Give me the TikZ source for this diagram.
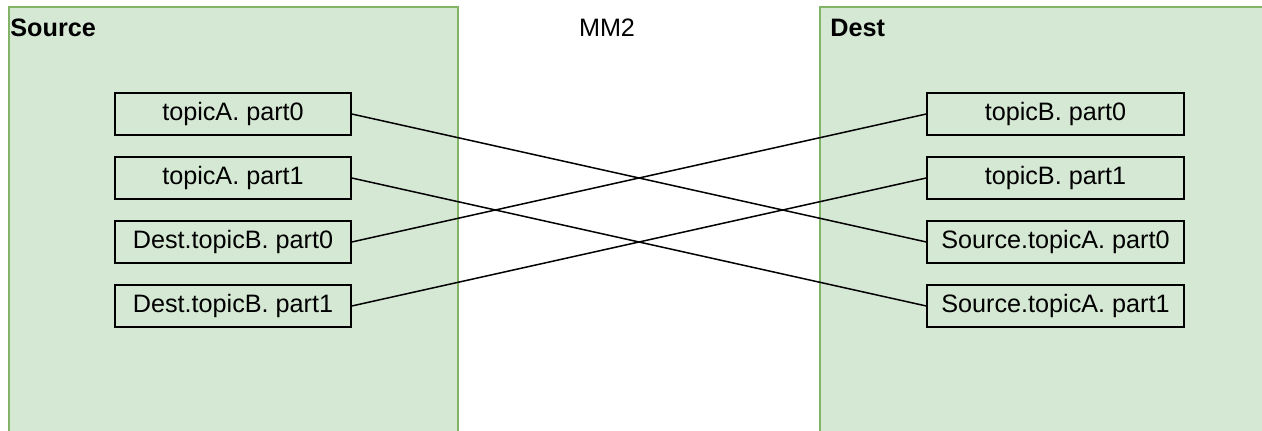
\documentclass[tikz,border=0pt]{standalone}
\usepackage{fontspec}
\setmainfont{Liberation Sans}
\definecolor{panelfill}{HTML}{D5E8D4}
\definecolor{paneldraw}{HTML}{82B366}
\tikzset{
  panel/.style={fill=panelfill, draw=paneldraw, line width=1pt},
  topicbox/.style={draw, line width=0.75pt, minimum height=21pt, inner sep=0pt,
    font=\fontsize{12.6}{15}\selectfont},
  title/.style={inner sep=0pt, font=\fontsize{12.6}{15}\selectfont}
}
\begin{document}
\begin{tikzpicture}[x=0.5pt, y=-0.5pt]
  \useasboundingbox (0,0) rectangle (1262,431);

  % clusters
  \fill[panelfill] (9,7) rectangle (458,431);
  \draw[paneldraw, line width=1pt] (9,431) -- (9,7) -- (458,7) -- (458,431);
  \fill[panelfill] (820,7) rectangle (1262,431);
  \draw[paneldraw, line width=1pt] (1262,7) -- (820,7) -- (820,431);
  \node[title, anchor=west, font=\bfseries\fontsize{12.6}{15}\selectfont] (srclabel) at (10,28) {Source};
  \node[title, anchor=west, font=\bfseries\fontsize{12.6}{15}\selectfont] (dstlabel) at (830,28) {Dest};
  \node[title] (mm) at (607,28) {MM2};

  \begin{scope}[every node/.style={topicbox, minimum width=118pt}]
    \node (sa0) at (233,114) {topicA. part0} ;
    \node (sa1) at (233,178) {topicA. part1} ;
    \node (sb0) at (233,242) {Dest.topicB. part0} ;
    \node (sb1) at (233,306) {Dest.topicB. part1} ;
  \end{scope}

  \begin{scope}[every node/.style={topicbox, minimum width=128.5pt}]
    \node (db0) at (1055.5,114) {topicB. part0} ;
    \node (db1) at (1055.5,178) {topicB. part1} ;
    \node (da0) at (1055.5,242) {Source.topicA. part0} ;
    \node (da1) at (1055.5,306) {Source.topicA. part1} ;
  \end{scope}

  \begin{scope}[-, line width=0.75pt]
    \draw (sa0.east) to (da0.west);
    \draw (sa1.east) to (da1.west);
    \draw (sb0.east) to (db0.west);
    \draw (sb1.east) to (db1.west);
  \end{scope}
\end{tikzpicture}
\end{document}
